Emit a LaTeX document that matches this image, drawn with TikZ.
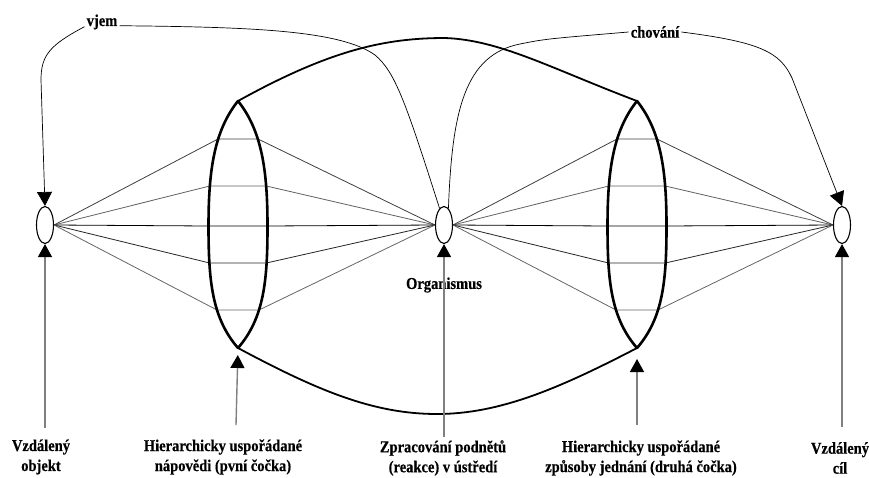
\documentclass[tikz,border=0pt]{standalone}
\usepackage{fontspec}
\setmainfont{Liberation Serif}
\newfontfamily\lblfont{Liberation Serif}[FakeStretch=0.88,FakeBold=0.4]
\usetikzlibrary{arrows.meta,shapes.geometric}
\begin{document}
\begin{tikzpicture}[x=1pt,y=-1pt,
  obj/.style={draw,ellipse,line width=1.1pt,minimum width=17pt,minimum height=37pt,inner sep=0pt},
  lens/.style={line width=2.6pt,line cap=round},
  tie/.style={line width=1.8pt},
  ray/.style={line width=0.8pt},
  thinline/.style={line width=0.7pt},
  thinarrow/.style={line width=0.7pt,-{Triangle[width=15pt,length=14pt]}},
  uparrow/.style={draw=black!50,line width=1.4pt,-{Triangle[width=14pt,length=13pt,color=black]}},
  lbl/.style={font=\lblfont\fontsize{16.5}{20}\selectfont\bfseries,align=center,inner sep=2pt},
]
\useasboundingbox (0,0) rectangle (869,477);
\fill[white] (0,0) rectangle (869,477);

% objects
\node[obj] (objL) at (45,225) {};
\node[obj] (mid) at (444,225) {};
\node[obj] (objR) at (842,225) {};

% lens tips
\coordinate (LT) at (238,101); \coordinate (LB) at (238,348);
\coordinate (RT) at (637,101); \coordinate (RB) at (637,348);

% lens edge points
\foreach \i/\y/\o in {1/139/20,2/186/28.3,3/226/29.5,4/263/28.3,5/310/21}{
  \coordinate (Lw\i) at ({238-\o},\y);
  \coordinate (Le\i) at ({238+\o},\y);
  \coordinate (Rw\i) at ({637-\o},\y);
  \coordinate (Re\i) at ({637+\o},\y);
}

% rays
\foreach \i/\c in {1/black!75,2/black!62,3/black,4/black!85,5/black!60}{
  \draw[ray,draw=\c] (objL.east) -- (Lw\i) -- (Le\i) -- (mid.west);
  \draw[ray,draw=\c] (mid.east) -- (Rw\i) -- (Re\i) -- (objR.west);
}

% lenses
\draw[lens] (LT) .. controls +(-24,30) and +(0,-55) .. (Lw3) .. controls +(0,55) and +(-26,-30) .. (LB);
\draw[lens] (LT) .. controls +(24,30) and +(0,-55) .. (Le3) .. controls +(0,55) and +(26,-30) .. (LB);
\draw[lens] (RT) .. controls +(-24,30) and +(0,-55) .. (Rw3) .. controls +(0,55) and +(-26,-30) .. (RB);
\draw[lens] (RT) .. controls +(24,30) and +(0,-55) .. (Re3) .. controls +(0,55) and +(26,-30) .. (RB);

% ties between lenses
\draw[tie] (LT) .. controls (330,50) and (385,38) .. (445,38) .. controls (500,40) and (550,68) .. (RT);
\draw[tie] (LB) .. controls (320,392) and (375,414) .. (437,414) .. controls (500,414) and (560,388) .. (RB);

% top labels
\node[lbl] (vjem) at (102,22) {vjem};
\node[lbl] (chov) at (655,32) {chování};
\node[lbl] (org) at (444,285) {Organismus};

% vjem loop
\draw[thinline] (mid.105) .. controls (405,100) and (395,72) .. (375,55) .. controls (340,30) and (250,27) .. (vjem.-12);
\draw[thinarrow] (vjem.195) .. controls (50,45) and (41,55) .. (41,80) -- (objL.north);

% chovani loop
\draw[thinline] (mid.75) .. controls (452,110) and (465,55) .. (520,44) .. controls (545,39) .. (chov.west);
\draw[thinarrow] (chov.east) .. controls (760,42) and (780,52) .. (792,78) -- (objR.north);

% bottom labels
\node[lbl] (tL) at (41,457) {Vzdálený\\objekt};
\node[lbl] (tL1) at (223,457) {Hierarchicky uspořádané\\nápovědi (pvní čočka)};
\node[lbl] (tM) at (443,458) {Zpracování podnětů\\(reakce) v ústředí};
\node[lbl] (tR1) at (641,458) {Hierarchicky uspořádané\\způsoby jednání (druhá čočka)};
\node[lbl] (tR) at (840,458) {Vzdálený\\cíl};

% arrow start points
\coordinate (aL) at (45,428);
\coordinate (aL1) at (236,425);
\coordinate (aM) at (444,437);
\coordinate (aR1) at (637,425);
\coordinate (aR) at (842,427);

\draw[uparrow] (aL) -- (objL.south);
\draw[uparrow,shorten >=7pt] (aL1) -- (LB);
\draw[uparrow] (aM) -- (mid.south);
\draw[uparrow,shorten >=11pt] (aR1) -- (RB);
\draw[uparrow] (aR) -- (objR.south);
\end{tikzpicture}
\end{document}
